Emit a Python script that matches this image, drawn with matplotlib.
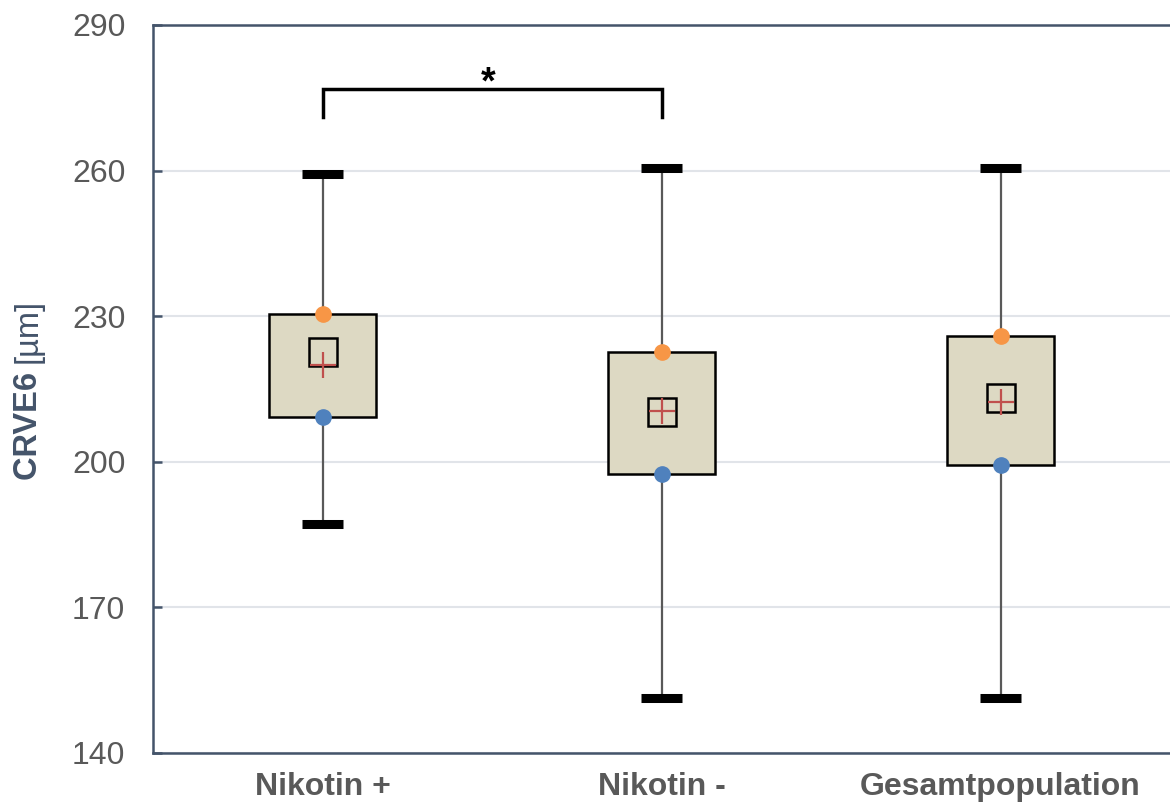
import matplotlib
matplotlib.use('Agg')
import matplotlib.pyplot as plt

plt.rcParams['font.family'] = ['Liberation Sans', 'DejaVu Sans']

# ── Data (CRVE6 in µm) ────────────────────────────────────────────────────────
groups      = ['Nikotin +', 'Nikotin -', 'Gesamtpopulation']
whisker_min = [187.2, 151.3, 151.3]
q1          = [209.2, 197.5, 199.3]
median      = [222.6, 210.3, 213.2]
mean        = [220.0, 210.5, 212.3]
q3          = [230.5, 222.6, 225.9]
whisker_max = [259.3, 260.5, 260.5]
y_ticks     = [140, 170, 200, 230, 260, 290]
sig_pair    = (0, 1)
sig_y       = (271.0, 276.8)

# ── Style ─────────────────────────────────────────────────────────────────────
AXIS_COL  = '#44546a'
TEXT_COL  = '#595959'
BOX_FILL  = '#ddd9c3'
ORANGE    = '#f79646'
BLUE      = '#4f81bd'
RED       = '#c0504d'
box_w     = 0.316
cap_w     = 0.121

fig = plt.figure(figsize=(11.7, 8.06), dpi=100)
ax = fig.add_axes([0.1308, 0.0658, 0.8692, 0.9032])

ax.set_xlim(0, 3)
ax.set_ylim(140, 290)
ax.set_yticks(y_ticks)
ax.grid(axis='y', color='#e1e4e9', lw=1.5, zorder=0)
ax.set_axisbelow(True)

for i in range(len(groups)):
    x = i + 0.5
    # whisker line
    ax.plot([x, x], [whisker_min[i], whisker_max[i]], color=TEXT_COL, lw=1.6, zorder=1)
    # whisker caps
    for yv in (whisker_min[i], whisker_max[i]):
        ax.plot([x - cap_w / 2, x + cap_w / 2], [yv, yv], color='black', lw=6.5,
                solid_capstyle='butt', zorder=3)
    # box
    ax.add_patch(plt.Rectangle((x - box_w / 2, q1[i]), box_w, q3[i] - q1[i],
                               facecolor=BOX_FILL, edgecolor='black', lw=1.8, zorder=2))
    # median square and mean cross
    ax.plot(x, median[i], marker='s', ms=20, mfc='none', mec='black', mew=1.8, zorder=4)
    ax.plot(x, mean[i], marker='+', ms=19, color=RED, mew=1.6, zorder=5)
    # quartile dots
    ax.plot(x, q3[i], 'o', ms=11, color=ORANGE, zorder=6)
    ax.plot(x, q1[i], 'o', ms=11, color=BLUE, zorder=6)

# significance bracket
xa, xb = sig_pair[0] + 0.5, sig_pair[1] + 0.5
ax.plot([xa, xa, xb, xb], [sig_y[0], sig_y[1], sig_y[1], sig_y[0]],
        color='black', lw=2.5, solid_joinstyle='miter', zorder=3)
ax.text((xa + xb) / 2 - 0.01, sig_y[1] - 2.6, '*', ha='center', va='bottom',
        fontsize=27, fontweight='bold', color='black')

# axes styling
ax.spines['right'].set_visible(False)
for side in ('left', 'top', 'bottom'):
    ax.spines[side].set_color(AXIS_COL)
    ax.spines[side].set_linewidth(1.8)

ax.set_xticks([i + 0.5 for i in range(len(groups))])
ax.set_xticklabels(groups, fontsize=23, fontweight='bold', color=TEXT_COL)
ax.tick_params(axis='x', length=0, pad=14)
ax.tick_params(axis='y', direction='in', length=6.5, width=1.8, color=AXIS_COL,
               labelsize=23, labelcolor=TEXT_COL, pad=20)

# y-axis label: bold name, regular unit
t1 = fig.text(0.024, 0.4045, 'CRVE6 ', rotation=90,
              ha='center', va='bottom', fontsize=23.5, fontweight='bold', color=AXIS_COL)
fig.canvas.draw()
ax.annotate('[µm]', xy=(0.5, 1.0), xycoords=t1, ha='center', va='bottom', rotation=90,
            fontsize=23.5, color=AXIS_COL, annotation_clip=False)

fig.savefig('out.png', dpi=100)
